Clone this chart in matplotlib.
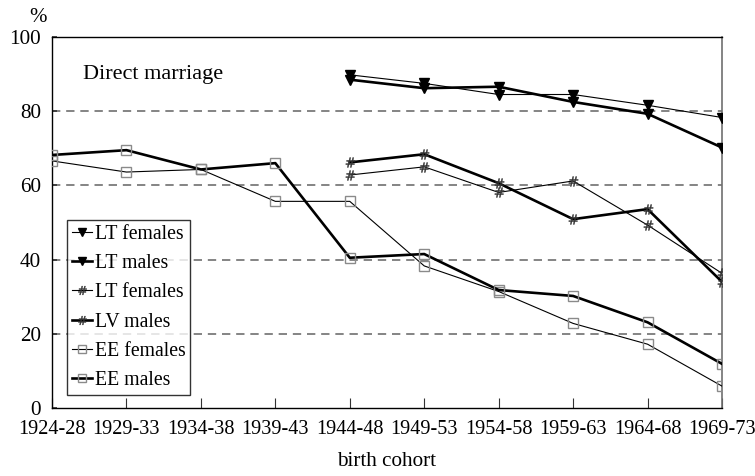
import matplotlib
matplotlib.use("Agg")
import matplotlib.pyplot as plt
import numpy as np

cohorts = ["1924-28", "1929-33", "1934-38", "1939-43", "1944-48",
           "1949-53", "1954-58", "1959-63", "1964-68", "1969-73"]
nan = np.nan
lt_females_tri = [nan, nan, nan, nan, 89.8, 87.5, 84.5, 84.5, 81.6, 78.3]
lt_males_tri = [nan, nan, nan, nan, 88.5, 86.2, 86.6, 82.5, 79.3, 70.2]
lt_females_hash = [nan, nan, nan, nan, 62.8, 65.0, 58.1, 61.2, 49.3, 36.3]
lv_males_hash = [nan, nan, nan, nan, 66.2, 68.4, 60.6, 50.9, 53.6, 34.0]
ee_females = [66.6, 63.6, 64.3, 55.7, 55.7, 38.3, 31.4, 22.8, 17.2, 5.9]
ee_males = [68.2, 69.5, 64.3, 66.0, 40.5, 41.5, 31.8, 30.2, 23.1, 11.9]

labels = ["LT females", "LT males", "LT females", "LV males", "EE females", "EE males"]

plt.rcParams['font.family'] = ['Liberation Serif', 'DejaVu Serif']
plt.rcParams['mathtext.fontset'] = 'dejavusans'

fig = plt.figure(figsize=(7.55, 4.76), dpi=100)
ax = fig.add_axes([52/755, 1-408/476, (722-52)/755, (408-37)/476])

x = np.arange(len(cohorts))
thin = 0.8
thick = 1.9
hash_marker = r'$\#$'

ax.plot(x, lt_females_tri, color='black', lw=thin, marker='v', ms=6.5,
        mfc='black', mec='black', label=labels[0], zorder=5)
ax.plot(x, lt_males_tri, color='black', lw=thick, marker='v', ms=6.5,
        mfc='black', mec='black', label=labels[1], zorder=5)
ax.plot(x, lt_females_hash, color='black', lw=thin, marker=hash_marker, ms=7,
        mfc='#333333', mec='#333333', mew=0.3, label=labels[2], zorder=5)
ax.plot(x, lv_males_hash, color='black', lw=thick, marker=hash_marker, ms=7,
        mfc='#333333', mec='#333333', mew=0.3, label=labels[3], zorder=5)
ax.plot(x, ee_females, color='black', lw=thin, marker='s', ms=6.5,
        mfc='none', mec='#8a8a8a', mew=1.0, label=labels[4], zorder=5)
ax.plot(x, ee_males, color='black', lw=thick, marker='s', ms=6.5,
        mfc='none', mec='#8a8a8a', mew=1.0, label=labels[5], zorder=5)

ax.set_xlim(0, len(cohorts) - 1)
ax.set_ylim(0, 100)
ax.set_xticks(x)
ax.set_xticklabels(cohorts, fontsize=14.6)
ax.set_yticks([0, 20, 40, 60, 80, 100])
ax.set_yticklabels(["0", "20", "40", "60", "80", "100"], fontsize=15.2)
ax.tick_params(axis='x', direction='in', length=7, width=0.8, pad=9, color='#333333')
ax.tick_params(axis='y', direction='in', length=3.5, width=1.2, pad=8, color='#333333')

for yv in [20, 40, 60, 80]:
    ax.axhline(yv, color='#707070', lw=1.2, ls=(0, (5, 3.5)), zorder=1)

for side in ['left', 'bottom', 'top']:
    ax.spines[side].set_color('black')
    ax.spines[side].set_linewidth(1.0)
ax.spines['right'].set_color('#707070')
ax.spines['right'].set_linewidth(1.2)

ax.text(0.42, 89.8, "Direct marriage", fontsize=16, va='center', ha='left')
fig.text(38/755, 1-18/476, "%", fontsize=15, ha='center', va='center')
ax.set_xlabel("birth cohort", fontsize=15.2, labelpad=9)

leg = ax.legend(loc='lower left', bbox_to_anchor=((67-52)/670, (408-395)/371),
                fontsize=14.2, frameon=True, fancybox=False, edgecolor='black',
                handlelength=1.0, handletextpad=0.15, labelspacing=0.52,
                borderpad=0.25, borderaxespad=0, markerscale=0.9)
leg.get_frame().set_linewidth(1.0)

fig.savefig("out.png", dpi=100)
